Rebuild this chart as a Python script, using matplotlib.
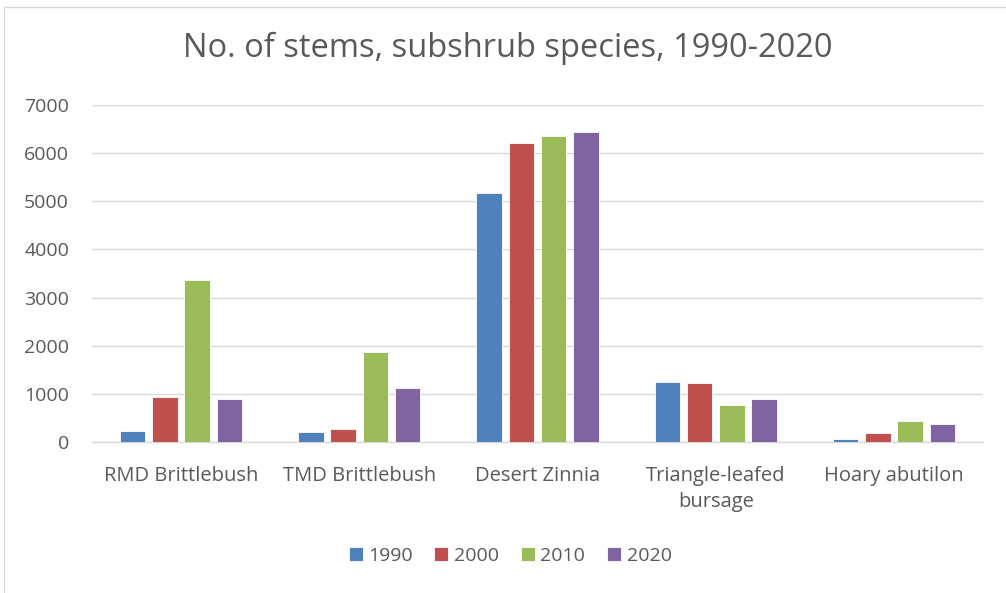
import numpy as np
import matplotlib.pyplot as plt
from matplotlib.patches import Rectangle

species = ['RMD Brittlebush', 'TMD Brittlebush', 'Desert Zinnia',
           'Triangle-leafed\nbursage', 'Hoary abutilon']
years = ['1990', '2000', '2010', '2020']
stems_1990 = [230, 200, 5180, 1255, 70]
stems_2000 = [940, 270, 6210, 1235, 195]
stems_2010 = [3370, 1865, 6350, 770, 430]
stems_2020 = [900, 1125, 6430, 900, 380]
colors = ['#4F81BD', '#C0504D', '#9BBB59', '#8064A2']

plt.rcParams['font.family'] = ['Open Sans', 'DejaVu Sans']
grey = '#595959'

fig = plt.figure(figsize=(10.06, 5.93), dpi=100)
# chart frame
fig.patches.append(Rectangle((4 / 1006, -0.1), 1.2, (593 - 7) / 593 + 0.1,
                             transform=fig.transFigure, fill=False,
                             edgecolor='#d9d9d9', linewidth=1.0))
ax = fig.add_axes([92 / 1006, 151 / 593, 891 / 1006, 337 / 593])

x = np.arange(len(species))
step = 0.181
width = 0.143
series = [stems_1990, stems_2000, stems_2010, stems_2020]
for k, vals in enumerate(series):
    ax.bar(x + (k - 1.5) * step, vals, width, color=colors[k],
           edgecolor='white', linewidth=0.6, label=years[k], zorder=3)

ax.set_xlim(-0.5, len(species) - 0.5)
ax.set_ylim(0, 7000)
ax.set_yticks(range(0, 7001, 1000))
ax.yaxis.grid(True, color='#d9d9d9', linewidth=1.0, zorder=0)
ax.set_axisbelow(True)
for s in ['top', 'right', 'left']:
    ax.spines[s].set_visible(False)
ax.spines['bottom'].set_color('#d9d9d9')
ax.spines['bottom'].set_linewidth(1.0)
ax.tick_params(axis='y', length=0, labelsize=14, colors=grey, pad=16.5)
ax.tick_params(axis='x', length=0, labelsize=14.5, colors=grey, pad=17)
ax.set_xticks(x)
ax.set_xticklabels(species, linespacing=1.4)

fig.text(0.505, 1 - 48 / 593, 'No. of stems, subshrub species, 1990-2020',
         ha='center', va='center', fontsize=23.5, color=grey)

fig.legend(loc='center', bbox_to_anchor=(510 / 1006, 1 - 556 / 593), ncol=4,
           frameon=False, fontsize=14, labelcolor=grey,
           handlelength=0.72, handleheight=0.72, handletextpad=0.3,
           columnspacing=1.1)

fig.savefig('out.png', dpi=100)
